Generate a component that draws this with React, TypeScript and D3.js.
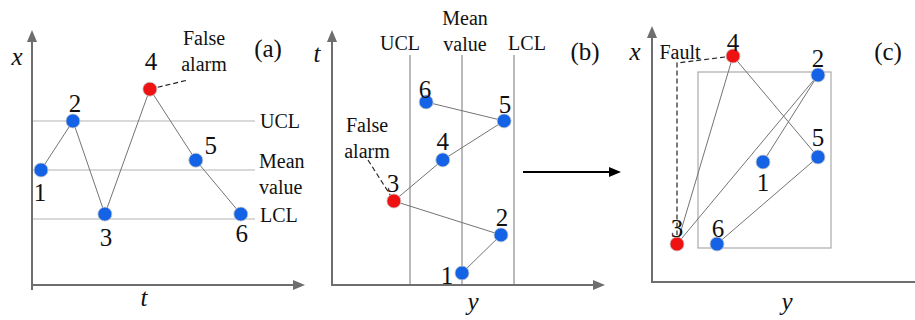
import React from "react";
import * as d3 from "d3";

// Panel (a): x over time t, with control limits (units: mean = 0, UCL = +1, LCL = -1)
const labelsA = ["1", "2", "3", "4", "5", "6"];
const tA = [0.2, 0.91, 1.62, 2.62, 3.64, 4.64];
const xA = [0.0, 1.0, -0.9, 1.65, 0.2, -0.9];
const alarmA = [false, false, false, true, false, false];
const limitsA = [1, 0, -1]; // UCL, Mean, LCL

// Panel (b): t over y (units: mean = 0, UCL = -1, LCL = +1)
const labelsB = ["1", "2", "3", "4", "5", "6"];
const yB = [0.0, 0.75, -1.31, -0.37, 0.81, -0.69];
const tB = [0.4, 1.67, 2.8, 4.17, 5.47, 6.1];
const alarmB = [false, false, true, false, false, false];
const limitsB = [-1, 0, 1]; // UCL, Mean, LCL

// Panel (c): x over y, with the normal region box
const labelsC = ["1", "2", "3", "4", "5", "6"];
const yC = [5.55, 8.3, 1.25, 4.05, 8.3, 3.25];
const xC = [6.0, 10.35, 1.9, 11.3, 6.25, 1.9];
const faultC = [false, false, true, true, false, false];
const boxC = { y0: 2.3, y1: 8.95, x0: 1.7, x1: 10.5 };

const SERIF = "'Liberation Serif', 'Times New Roman', serif";
const AXIS = "#6e6e6e";
const BLUE = "#1463e6";
const RED = "#ee1212";
const LINK = "#747474";

// scales
const sxA = d3.scaleLinear().domain([0, 1]).range([32, 77]);
const syA = d3.scaleLinear().domain([0, 1]).range([170, 121]);
const sxB = d3.scaleLinear().domain([0, 1]).range([462, 514]);
const syB = d3.scaleLinear().domain([0, 1]).range([285, 255]);
const sxC = d3.scaleLinear().domain([0, 1]).range([652, 672]);
const syC = d3.scaleLinear().domain([0, 1]).range([282, 262]);

type P = [number, number];
const lineGen = d3.line<P>();

function Arrow({ x1, y1, x2, y2, color, w, head }: { x1: number; y1: number; x2: number; y2: number; color: string; w: number; head: number }) {
  const ang = Math.atan2(y2 - y1, x2 - x1);
  const hw = head * 0.42;
  const bx = x2 - head * Math.cos(ang);
  const by = y2 - head * Math.sin(ang);
  const px = -Math.sin(ang) * hw;
  const py = Math.cos(ang) * hw;
  return (
    <g>
      <line x1={x1} y1={y1} x2={bx} y2={by} stroke={color} strokeWidth={w} />
      <path d={`M${x2},${y2}L${bx + px},${by + py}L${bx - px},${by - py}Z`} fill={color} />
    </g>
  );
}

function Txt({ x, y, s, size = 25, italic = false, anchor = "middle" }: { x: number; y: number; s: string; size?: number; italic?: boolean; anchor?: string }) {
  return (
    <text x={x} y={y} fontFamily={SERIF} fontSize={size} fontStyle={italic ? "italic" : "normal"} textAnchor={anchor as any} dominantBaseline="central" fill="#111">
      {s}
    </text>
  );
}

function Dots({ pts, flags }: { pts: P[]; flags: boolean[] }) {
  return (
    <g>
      {pts.map((p, i) => (
        <circle key={i} cx={p[0]} cy={p[1]} r={7} fill={flags[i] ? RED : BLUE} stroke="#c8c8c8" strokeWidth={0.8} />
      ))}
    </g>
  );
}

export default function App() {
  const ptsA: P[] = tA.map((t, i) => [sxA(t), syA(xA[i])]);
  const ptsB: P[] = yB.map((y, i) => [sxB(y), syB(tB[i])]);
  const ptsC: P[] = yC.map((y, i) => [sxC(y), syC(xC[i])]);

  // label offsets relative to each point
  const offA: P[] = [[-1, 22], [2, -18], [1, 23], [1, -28], [15, -15], [1, 19]];
  const offB: P[] = [[-15, 2], [1, -17], [-1, -18], [0, -18], [1, -16], [-1, -13]];
  const offC: P[] = [[0, 20], [0, -17], [0, -16], [0, -14], [0, -20], [1, -16]];

  const limitNames = ["UCL", "Mean", "LCL"];

  return (
    <svg width={915} height={320} style={{ position: "absolute", left: 0, top: 0, background: "#fff" }}>
      {/* ---------- (a) ---------- */}
      {limitsA.map((v, i) => (
        <line key={i} x1={32} x2={255} y1={syA(v)} y2={syA(v)} stroke="#b4b4b4" strokeWidth={1.2} />
      ))}
      <Arrow x1={32} y1={290} x2={32} y2={30} color={AXIS} w={2} head={12} />
      <Arrow x1={31} y1={285} x2={305} y2={285} color={AXIS} w={2} head={12} />
      <path d={lineGen(ptsA) ?? ""} fill="none" stroke={LINK} strokeWidth={1} />
      <line x1={ptsA[3][0]} y1={ptsA[3][1]} x2={188} y2={80} stroke="#222" strokeWidth={1.2} strokeDasharray="5,3" />
      <Dots pts={ptsA} flags={alarmA} />
      {ptsA.map((p, i) => (
        <Txt key={i} x={p[0] + offA[i][0]} y={p[1] + offA[i][1]} s={labelsA[i]} />
      ))}
      <Txt x={17} y={56} s="x" italic />
      <Txt x={144} y={297} s="t" italic />
      <Txt x={268} y={48} s="(a)" />
      <Txt x={204} y={38} s="False" size={20} />
      <Txt x={204} y={64} s="alarm" size={20} />
      <Txt x={260} y={syA(limitsA[0])} s={limitNames[0]} size={20} anchor="start" />
      <Txt x={259} y={161} s={limitNames[1]} size={20} anchor="start" />
      <Txt x={259} y={187} s="value" size={20} anchor="start" />
      <Txt x={260} y={215} s={limitNames[2]} size={20} anchor="start" />

      {/* ---------- (b) ---------- */}
      {limitsB.map((v, i) => (
        <line key={i} x1={sxB(v)} x2={sxB(v)} y1={55} y2={285} stroke="#8c8c8c" strokeWidth={1.2} />
      ))}
      <Arrow x1={332} y1={286} x2={332} y2={30} color={AXIS} w={2} head={12} />
      <Arrow x1={331} y1={285} x2={605} y2={285} color={AXIS} w={2} head={12} />
      <path d={lineGen(ptsB) ?? ""} fill="none" stroke={LINK} strokeWidth={1} />
      <line x1={368} y1={160} x2={ptsB[2][0] - 3} y2={ptsB[2][1] - 5} stroke="#222" strokeWidth={1.2} strokeDasharray="5,3" />
      <Dots pts={ptsB} flags={alarmB} />
      {ptsB.map((p, i) => (
        <Txt key={i} x={p[0] + offB[i][0]} y={p[1] + offB[i][1]} s={labelsB[i]} />
      ))}
      <Txt x={317} y={53} s="t" italic />
      <Txt x={sxB(limitsB[0]) - 10} y={43} s={limitNames[0]} size={20} />
      <Txt x={465} y={18} s={limitNames[1]} size={20} />
      <Txt x={465} y={44} s="value" size={20} />
      <Txt x={sxB(limitsB[2]) + 13} y={43} s={limitNames[2]} size={20} />
      <Txt x={585} y={51} s="(b)" />
      <Txt x={367} y={125} s="False" size={20} />
      <Txt x={367} y={151} s="alarm" size={20} />
      <Txt x={473} y={301} s="y" italic />

      {/* transition arrow */}
      <Arrow x1={523} y1={172} x2={621} y2={172} color="#000" w={2.2} head={12} />

      {/* ---------- (c) ---------- */}
      <rect
        x={sxC(boxC.y0)}
        y={syC(boxC.x1)}
        width={sxC(boxC.y1) - sxC(boxC.y0)}
        height={syC(boxC.x0) - syC(boxC.x1)}
        fill="none"
        stroke="#aaaaaa"
        strokeWidth={1.2}
      />
      <Arrow x1={652} y1={283} x2={652} y2={26} color={AXIS} w={2} head={12} />
      <line x1={651} y1={282} x2={915} y2={282} stroke={AXIS} strokeWidth={2} />
      <path d={lineGen(ptsC) ?? ""} fill="none" stroke={LINK} strokeWidth={1} />
      <path
        d={`M${ptsC[3][0]},${ptsC[3][1]}L${ptsC[2][0]},63L${ptsC[2][0]},235`}
        fill="none"
        stroke="#222"
        strokeWidth={1.2}
        strokeDasharray="5,3"
      />
      <Dots pts={ptsC} flags={faultC} />
      {ptsC.map((p, i) => (
        <Txt key={i} x={p[0] + offC[i][0]} y={p[1] + offC[i][1]} s={labelsC[i]} />
      ))}
      <Txt x={635} y={51} s="x" italic />
      <Txt x={787} y={301} s="y" italic />
      <Txt x={680} y={52} s="Fault" size={20} />
      <Txt x={888} y={51} s="(c)" />
    </svg>
  );
}
